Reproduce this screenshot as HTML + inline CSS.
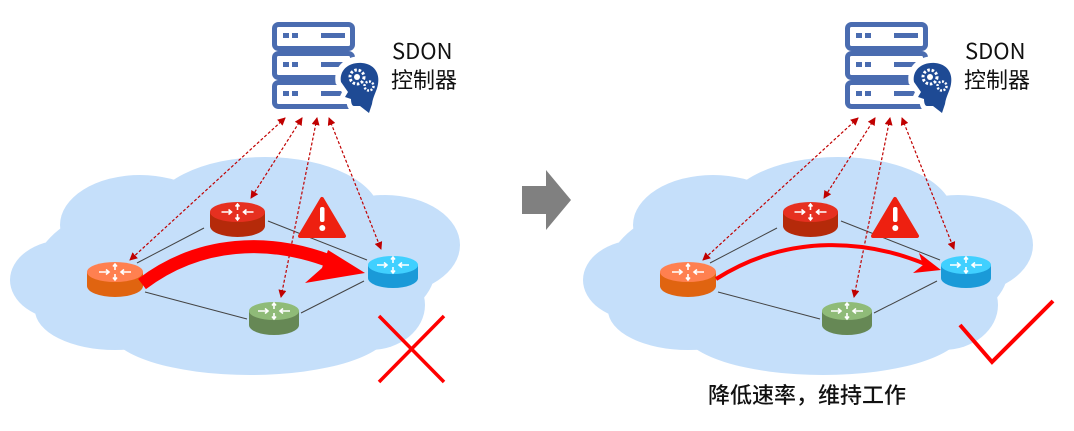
<!DOCTYPE html>
<html><head><meta charset="utf-8"><style>
html,body{margin:0;padding:0;background:#fff;width:1074px;height:431px;overflow:hidden}
text{font-family:"Noto Sans CJK SC","Liberation Sans",sans-serif}
</style></head><body>
<svg width="1074" height="431" viewBox="0 0 1074 431" xmlns="http://www.w3.org/2000/svg">
<defs>
<marker id="ah" markerWidth="8" markerHeight="8" refX="7" refY="4" orient="auto" markerUnits="userSpaceOnUse"><path d="M0,0 L8,4 L0,8 Z" fill="#c00000"/></marker>
<marker id="at" markerWidth="8" markerHeight="8" refX="1" refY="4" orient="auto" markerUnits="userSpaceOnUse"><path d="M8,0 L0,4 L8,8 Z" fill="#c00000"/></marker>
<g id="rico" fill="none" stroke="#fff" stroke-width="1.6">
<path d="M-16,0 H-6 M-9,-2.5 L-6,0 L-9,2.5"/>
<path d="M16,0 H6 M9,-2.5 L6,0 L9,2.5"/>
<path d="M0,-8 V-2 M-2,-5.5 L0,-8 L2,-5.5"/>
<path d="M0,8 V2 M-2,5.5 L0,8 L2,5.5"/>
</g>
<g id="side">
<g fill="#c5dffa">
<ellipse cx="235" cy="270" rx="200" ry="85"/>
<ellipse cx="140" cy="225" rx="80" ry="50"/>
<ellipse cx="265" cy="215" rx="115" ry="58"/>
<ellipse cx="385" cy="245" rx="75" ry="50"/>
<ellipse cx="65" cy="280" rx="55" ry="40"/>
<ellipse cx="115" cy="310" rx="80" ry="40"/>
<ellipse cx="250" cy="330" rx="140" ry="45"/>
<ellipse cx="370" cy="305" rx="55" ry="45"/>
</g>
<g stroke="#444" stroke-width="1">
<line x1="137" y1="263" x2="204" y2="228"/>
<line x1="268" y1="221" x2="367" y2="260"/>
<line x1="145" y1="292" x2="247" y2="319"/>
<line x1="301" y1="313" x2="364" y2="281"/>
</g>
<g stroke="#c00000" stroke-width="1.2" stroke-dasharray="3,2" marker-end="url(#ah)" marker-start="url(#at)" fill="none">
<line x1="285" y1="118" x2="130" y2="260"/>
<line x1="302" y1="118" x2="251" y2="198"/>
<line x1="317" y1="118" x2="281" y2="297"/>
<line x1="329" y1="118" x2="381" y2="249"/>
</g>
<g>
<path d="M87,272 v14 a28,11 0 0 0 56,0 v-14 z" fill="#e06410"/>
<ellipse cx="115" cy="272" rx="28" ry="10" fill="#ff8050"/>
<use href="#rico" x="115" y="272"/>
</g>
<g>
<path d="M210,212 v14 a27.5,11 0 0 0 55,0 v-14 z" fill="#b52a0a"/>
<ellipse cx="237.5" cy="212" rx="27.5" ry="10" fill="#e63020"/>
<use href="#rico" x="237.5" y="212"/>
</g>
<g>
<path d="M249,311 v14 a25,10 0 0 0 50,0 v-14 z" fill="#668855"/>
<ellipse cx="274" cy="311" rx="25" ry="9" fill="#8fbb78"/>
<g transform="translate(274,311)"><use href="#rico" stroke="#d8ffc0"/></g>
</g>
<g>
<path d="M368,265 v13 a25,10 0 0 0 50,0 v-13 z" fill="#1a9ad8"/>
<ellipse cx="393" cy="265" rx="25" ry="9" fill="#40d0ff"/>
<use href="#rico" x="393" y="265"/>
</g>
<path d="M322,199 L344,236 L300,236 Z" fill="#ee2010" stroke="#ee2010" stroke-width="4" stroke-linejoin="round"/>
<rect x="320" y="207" width="4.5" height="15" rx="2" fill="#fff"/>
<circle cx="322.3" cy="228" r="3" fill="#fff"/>
<g fill="none" stroke="#4a6cb0" stroke-width="5">
<rect x="274.5" y="24.5" width="78" height="24" rx="4"/>
<rect x="274.5" y="53.5" width="78" height="24" rx="4"/>
<rect x="274.5" y="82.5" width="78" height="24" rx="4"/>
</g>
<g fill="#4a6cb0">
<rect x="283" y="33" width="6" height="5"/><rect x="292" y="33" width="6" height="5"/><rect x="321" y="33" width="24" height="5"/>
<rect x="283" y="62" width="6" height="5"/><rect x="292" y="62" width="6" height="5"/><rect x="321" y="62" width="24" height="5"/>
<rect x="283" y="91" width="6" height="5"/><rect x="292" y="91" width="6" height="5"/><rect x="321" y="91" width="24" height="5"/>
</g>
<!-- head facing left -->
<path d="M339,82 C337,68 348,59 362,60 C376,61 383,72 381,84 C380,92 376,97 375,104 L372,115 L360,108 L354,108 C351,108 350,104 350,100 L343,98 L346,92 Z" fill="#fff" stroke="#fff" stroke-width="7"/>
<path d="M341,82 C339,70 349,62 362,63 C374,64 380,73 378,84 C377,91 373,96 372,104 L369,113 L360,106 L354,106 C352,106 351,103 351,99 L345,97 L348,92 Z" fill="#1e4a94"/>
<circle cx="357" cy="77" r="7" fill="none" stroke="#fff" stroke-width="3" stroke-dasharray="2.5,1.8"/>
<circle cx="357" cy="77" r="3" fill="#fff"/>
<circle cx="369" cy="86" r="4.5" fill="none" stroke="#fff" stroke-width="2.5" stroke-dasharray="2,1.5"/>
<text x="392" y="59" font-size="22" fill="#111">SDON</text>
<text x="391" y="88" font-size="22" fill="#111">控制器</text>
</g>
</defs>

<use href="#side"/>
<path d="M142,284 C200,240 270,238 332,262" stroke="#ff0000" stroke-width="13" fill="none"/>
<path d="M365,273 L305,283 L322,268 L328,250 Z" fill="#ff0000"/>
<g stroke="#ff0000" stroke-width="3.5">
<line x1="379" y1="316" x2="444" y2="382"/>
<line x1="444" y1="316" x2="379" y2="382"/>
</g>
<path d="M522,186 H546 V170 L571,200 L546,230 V214 H522 Z" fill="#808080"/>

<g transform="translate(573,0)"><use href="#side"/></g>
<path d="M716,279 C790,232 870,240 930,266" stroke="#ff0000" stroke-width="4" fill="none"/>
<path d="M941,270 L913,273 L923,265 L919,253 Z" fill="#ff0000"/>
<path d="M960,325 L992,362 L1053,301" stroke="#ff0000" stroke-width="4" fill="none"/>
<text x="708" y="403" font-size="22" font-weight="500" fill="#111">降低速率，维持工作</text>
</svg>
</body></html>
